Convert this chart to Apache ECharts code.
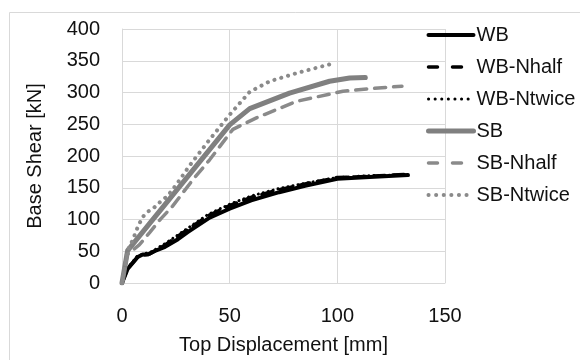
<!DOCTYPE html>
<html>
<head>
<meta charset="utf-8">
<script src="https://cdn.jsdelivr.net/npm/echarts@6/dist/echarts.min.js"></script>
<style>html,body{margin:0;padding:0;background:#fff}#c{width:580px;height:360px}</style>
</head>
<body>
<div id="c"></div>
<script>
var seriesNames = ['WB', 'WB-Nhalf', 'WB-Ntwice', 'SB', 'SB-Nhalf', 'SB-Ntwice'];
var xTicks = [0, 50, 100, 150];
var yTicks = [0, 50, 100, 150, 200, 250, 300, 350, 400];

var wb = [[0,0],[2.6,22],[7.3,41],[9.6,45],[12,45],[15,50],[20,57],[26,69],[30.5,80],[40.7,103],[50,117],[60,130],[73,143],[85,153],[100,164],[115,167],[132.8,170]];
var wbNhalf = [[0,0],[2.5,22],[7,40],[10,44],[13,46],[20,60],[30,83],[40,106],[50,122],[60,135],[72,146],[85,156],[100,166],[115,168],[132,171]];
var wbNtwice = [[0,0],[2.5,23],[7,42],[10,46],[13,48],[20,62],[30,85],[40,108],[50,124],[60,137],[72,148],[85,157],[100,166],[115,169],[130,170]];
var sb = [[0,0],[2.6,51],[50,249],[59.3,274.6],[77.8,299],[96.4,317.7],[105.7,322.9],[113,323.5]];
var sbNhalf = [[0,0],[2.5,45],[8,60],[13,80],[18,101],[23.5,121],[33,163],[40.7,194],[51.5,242],[62.4,260],[81,286],[102.6,302],[115,306],[130,310]];
var sbNtwice = [[0,0],[2.5,50],[5,68],[7.3,88],[9.6,104],[11.9,112],[15,119],[18.1,129],[21.2,137],[25.9,158],[31.4,185],[40.7,226],[50,265],[59.3,301],[68.6,317.7],[82.6,332],[97.2,345]];

var dataSets = [wb, wbNhalf, wbNtwice, sb, sbNhalf, sbNtwice];
var colors = ['#000000', '#000000', '#000000', '#808080', '#8a8a8a', '#8a8a8a'];
var widths = [4, 3.5, 3, 5, 3.5, 4];
var types = ['solid', [11, 8], [0.1, 5], 'solid', [11, 8], [0.1, 7]];
var legendTypes = ['solid', [9, 15], [0.1, 6.5], 'solid', [9, 15], [0.1, 7.5]];
var legendWidths = [4, 3.5, 3, 5, 3.5, 4];

var FONT = 'Liberation Sans, Arial, sans-serif';
var chart = echarts.init(document.getElementById('c'), null, {renderer: 'canvas'});

var series = seriesNames.map(function (n, i) {
  return {
    name: n,
    type: 'line',
    data: dataSets[i],
    symbol: 'none',
    smooth: false,
    color: colors[i],
    lineStyle: {color: colors[i], width: widths[i], type: types[i], cap: 'round', join: 'round'},
    z: 2 + i
  };
});

chart.setOption({
  animation: false,
  backgroundColor: '#ffffff',
  graphic: [{
    type: 'rect', left: 7, top: 10, z: 0,
    shape: {width: 620, height: 400},
    style: {fill: 'none', stroke: '#d9d9d9', lineWidth: 1}
  }],
  grid: {left: 122, right: 135, top: 29, bottom: 70.5, containLabel: false},
  legend: {
    orient: 'vertical',
    left: 421,
    top: 20,
    itemGap: 12,
    itemWidth: 45,
    itemHeight: 14,
    textStyle: {fontSize: 20, color: '#111', fontFamily: FONT, padding: [0, 0, 0, -2]},
    data: seriesNames.map(function (n, i) {
      return {
        name: n,
        itemStyle: {opacity: 0},
        lineStyle: {color: colors[i], width: legendWidths[i], type: legendTypes[i], cap: 'round'}
      };
    })
  },
  xAxis: {
    type: 'value', min: xTicks[0], max: xTicks[xTicks.length - 1], interval: 50,
    name: 'Top Displacement [mm]', nameLocation: 'middle', nameGap: 52,
    nameTextStyle: {fontSize: 20, color: '#111', fontFamily: FONT},
    axisLine: {show: true, lineStyle: {color: '#d9d9d9', width: 1}},
    axisTick: {show: false},
    axisLabel: {fontSize: 20, color: '#111', fontFamily: FONT, margin: 23},
    splitLine: {show: true, lineStyle: {color: '#d9d9d9', width: 1}}
  },
  yAxis: {
    type: 'value', min: yTicks[0], max: yTicks[yTicks.length - 1], interval: 50,
    name: 'Base Shear [kN]', nameLocation: 'middle', nameGap: 77,
    nameTextStyle: {fontSize: 20, color: '#111', fontFamily: FONT},
    axisLine: {show: true, lineStyle: {color: '#d9d9d9', width: 1}},
    axisTick: {show: false},
    axisLabel: {fontSize: 20, color: '#111', fontFamily: FONT, margin: 22},
    splitLine: {show: true, lineStyle: {color: '#d9d9d9', width: 1}}
  },
  series: series
});
</script>
</body>
</html>
